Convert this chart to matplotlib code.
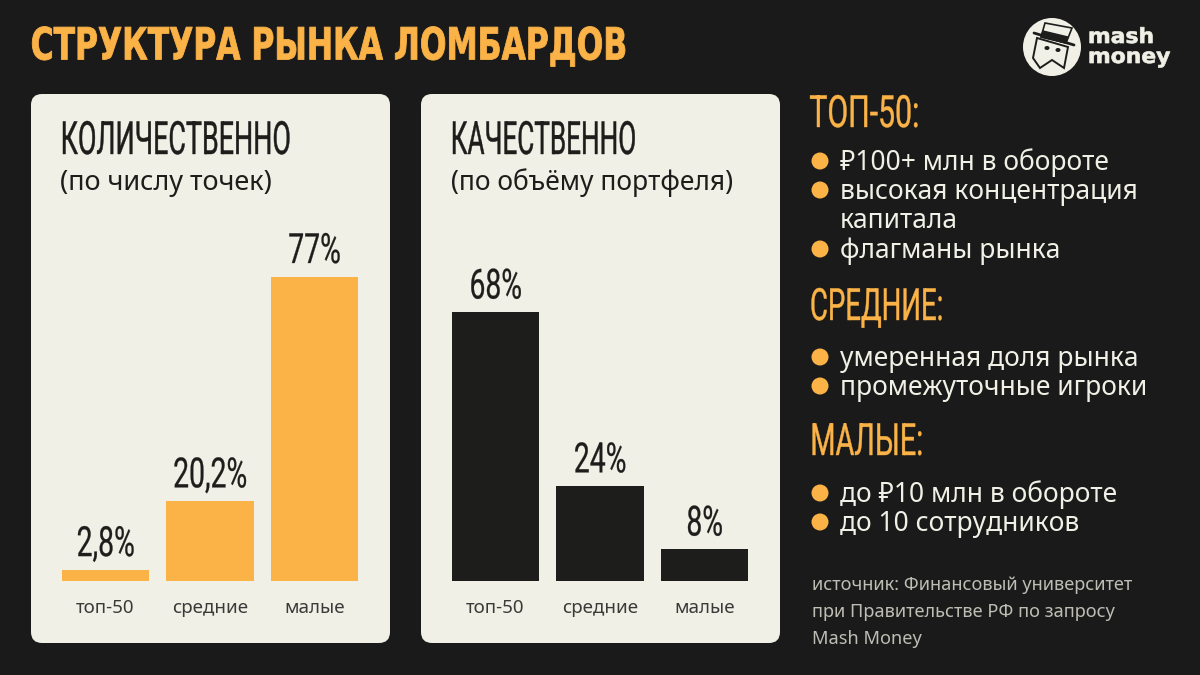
import matplotlib
matplotlib.use("Agg")
import matplotlib.pyplot as plt
import matplotlib.patheffects as pe
from matplotlib.patches import FancyBboxPatch, Circle, Polygon, Ellipse
from matplotlib.transforms import Affine2D

# данные
categories = ["топ-50", "средние", "малые"]
count_values = [2.8, 20.2, 77]
count_labels = ["2,8%", "20,2%", "77%"]
volume_values = [68, 24, 8]
volume_labels = ["68%", "24%", "8%"]

BG = "#1a1a1a"
PANEL = "#f0f0e6"
ORANGE = "#fbb347"
DARK = "#1d1d1b"
HEAD = ["Roboto", "DejaVu Sans"]
BODY = ["Noto Sans", "DejaVu Sans"]


class Squeeze(pe.AbstractPathEffect):
    # узкого шрифта нет, поэтому сжимаем текст по ширине
    def __init__(self, sx, center=False, lw=0.0):
        super().__init__()
        self.sx, self.center, self.lw = sx, center, lw

    def draw_path(self, renderer, gc, tpath, affine, rgbFace=None):
        ext = tpath.get_extents()
        c = (ext.x0 + ext.x1) / 2 if self.center else ext.x0
        tr = Affine2D().translate(-c, 0).scale(self.sx, 1).translate(c, 0) + affine
        gc0 = renderer.new_gc()
        gc0.copy_properties(gc)
        if self.lw:
            gc0.set_linewidth(self.lw)
            gc0.set_foreground(rgbFace)
        renderer.draw_path(gc0, tpath, tr, rgbFace)
        gc0.restore()


W, H = 1200, 675
fig = plt.figure(figsize=(W / 100, H / 100), dpi=100, facecolor=BG)

# слой на всю картинку, координаты в пикселях
bg = fig.add_axes([0, 0, 1, 1], zorder=0)
bg.set_xlim(0, W)
bg.set_ylim(H, 0)
bg.axis("off")


def ptext(x, y, s, size, color, family=BODY, **kw):
    kw.setdefault("va", "center")
    return bg.text(x, y, s, fontsize=size, color=color, family=family, **kw)


ptext(30, 47, "СТРУКТУРА РЫНКА ЛОМБАРДОВ", 32, ORANGE, ["DejaVu Sans"], fontweight="bold",
      path_effects=[Squeeze(0.705, lw=0.6)])

# логотип
bg.add_patch(Circle((1052, 47), 29, fc=PANEL, ec="none"))
bg.add_patch(Polygon([[1045, 23], [1072, 28], [1066, 43], [1041, 37]], fc=PANEL, ec=DARK, lw=1.2))
bg.add_patch(Polygon([[1043, 31], [1068, 37], [1066, 43], [1041, 37]], fc=DARK, ec=DARK, lw=1))
bg.plot([1034, 1074], [33, 45], color=DARK, lw=2, solid_capstyle="round")
bg.add_patch(Polygon([[1037, 38], [1068, 47], [1064, 68], [1052, 60], [1040, 68], [1033, 58]],
                     fc=PANEL, ec=DARK, lw=1.4))
bg.add_patch(Ellipse((1047, 48), 5, 4, fc=DARK, ec="none"))
bg.add_patch(Ellipse((1058, 50), 5, 4, fc=DARK, ec="none"))
ptext(1088, 43, "mash", 15, PANEL, ["DejaVu Sans"], va="baseline", fontweight="bold",
      path_effects=[Squeeze(1.05, lw=0.5)])
ptext(1088, 63, "money", 15, PANEL, ["DejaVu Sans"], va="baseline", fontweight="bold",
      path_effects=[Squeeze(1.05, lw=0.5)])

# карточки
for px in (31, 421):
    bg.add_patch(FancyBboxPatch((px, 94), 359, 549, boxstyle="round,pad=0,rounding_size=11",
                                fc=PANEL, ec="none"))

ptext(59, 141, "КОЛИЧЕСТВЕННО", 33, DARK, HEAD, path_effects=[Squeeze(0.587, lw=0.3)])
ptext(60, 183, "(по числу точек)", 19.5, DARK)
ptext(449, 141, "КАЧЕСТВЕННО", 33, DARK, HEAD, path_effects=[Squeeze(0.57, lw=0.3)])
ptext(451, 183, "(по объёму портфеля)", 19, DARK)


def bar_panel(x_center, values, labels, color):
    left = x_center - 156.75
    ax = fig.add_axes([left / W, (H - 581) / H, 313.5 / W, 316 / H], zorder=1)
    ax.patch.set_alpha(0)
    ax.bar(range(3), values, width=0.84, color=color)
    ax.set_xlim(-0.5, 2.5)
    ax.set_ylim(0, 80)
    ax.set_yticks([])
    ax.set_xticks(range(3))
    ax.set_xticklabels(categories, fontsize=13.5, color="#3a3a38", family=BODY)
    ax.tick_params(axis="x", length=0, pad=13)
    for s in ax.spines.values():
        s.set_visible(False)
    for i, (v, lab) in enumerate(zip(values, labels)):
        ax.annotate(lab, (i, v), xytext=(0, 3.5), textcoords="offset points", ha="center", va="bottom",
                    fontsize=30, color=DARK, family=HEAD,
                    path_effects=[Squeeze(0.68, center=True, lw=0.2)])


bar_panel(210, count_values, count_labels, ORANGE)
bar_panel(600, volume_values, volume_labels, DARK)

# правая колонка
headings = [("ТОП-50:", 115, 0.68), ("СРЕДНИЕ:", 308, 0.62), ("МАЛЫЕ:", 443, 0.65)]
bullets = [("₽100+ млн в обороте", 163), ("высокая концентрация", 192), ("флагманы рынка", 251),
           ("умеренная доля рынка", 359), ("промежуточные игроки", 388),
           ("до ₽10 млн в обороте", 495), ("до 10 сотрудников", 524)]
for s, y, sx in headings:
    ptext(809, y, s, 32, ORANGE, HEAD, path_effects=[Squeeze(sx, lw=0.3)])
for s, y in bullets:
    bg.add_patch(Circle((820, y - 2), 8.5, fc=ORANGE, ec="none"))
    ptext(840, y, s, 19, PANEL)
ptext(840, 221, "капитала", 19, PANEL)

source = ["источник: Финансовый университет", "при Правительстве РФ по запросу", "Mash Money"]
for s, y in zip(source, (585, 612, 639)):
    ptext(812, y, s, 13.1, "#bdbdb4")

fig.savefig("out.png", dpi=100, facecolor=BG)
